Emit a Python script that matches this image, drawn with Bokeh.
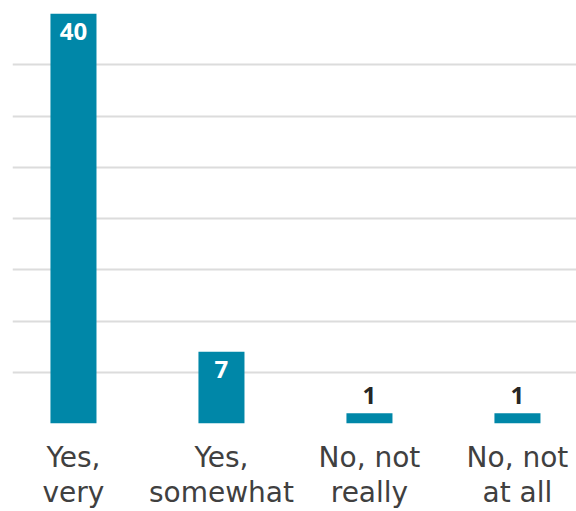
from bokeh.plotting import figure
from bokeh.models import ColumnDataSource, Range1d, FixedTicker, LabelSet
from bokeh.core.properties import value
from bokeh.embed import file_html
from bokeh.resources import INLINE

categories = ["Yes,\nvery", "Yes,\nsomewhat", "No, not\nreally", "No, not\nat all"]
values = [40, 7, 1, 1]
grid_ticks = [0, 5, 10, 15, 20, 25, 30, 35, 40]

BAR = "#0087a8"
xs = list(range(len(categories)))
inside = [v >= 4 for v in values]
label_color = ["#ffffff" if i else "#262626" for i in inside]
label_offset = [-26 if i else 9 for i in inside]

src = ColumnDataSource(dict(x=xs, top=values, txt=[str(v) for v in values],
                            lc=label_color, off=label_offset))

p = figure(width=576, height=511, output_backend="svg", toolbar_location=None,
           x_range=Range1d(-0.412, 3.399), y_range=Range1d(0, 40),
           min_border_left=12, min_border_right=0, min_border_top=13, min_border_bottom=88)
p.outline_line_color = None
p.background_fill_color = "#ffffff"
p.border_fill_color = "#ffffff"

p.vbar(x="x", top="top", bottom=0, width=0.311, source=src, fill_color=BAR, line_color=None)

labels = LabelSet(x="x", y="top", text="txt", source=src, text_align="center",
                  text_baseline="alphabetic", y_offset="off", text_color="lc",
                  text_font=value("Open Sans"), text_font_style="bold", text_font_size="24px")
p.add_layout(labels)

p.yaxis.visible = False
p.xgrid.visible = False
p.ygrid.ticker = FixedTicker(ticks=grid_ticks)
p.ygrid.grid_line_color = "#dcdcdc"
p.ygrid.grid_line_width = 2

p.xaxis.ticker = FixedTicker(ticks=xs)
p.xaxis.major_label_overrides = {i: c for i, c in zip(xs, categories)}
p.xaxis.axis_line_color = None
p.xaxis.major_tick_line_color = None
p.xaxis.minor_tick_line_color = None
p.xaxis.major_label_standoff = 11
p.xaxis.major_label_text_font = "DejaVu Sans"
p.xaxis.major_label_text_font_size = "28px"
p.xaxis.major_label_text_color = "#404040"
p.xaxis.major_label_text_line_height = 1.07

open("out.html", "w").write(file_html(p, INLINE))
